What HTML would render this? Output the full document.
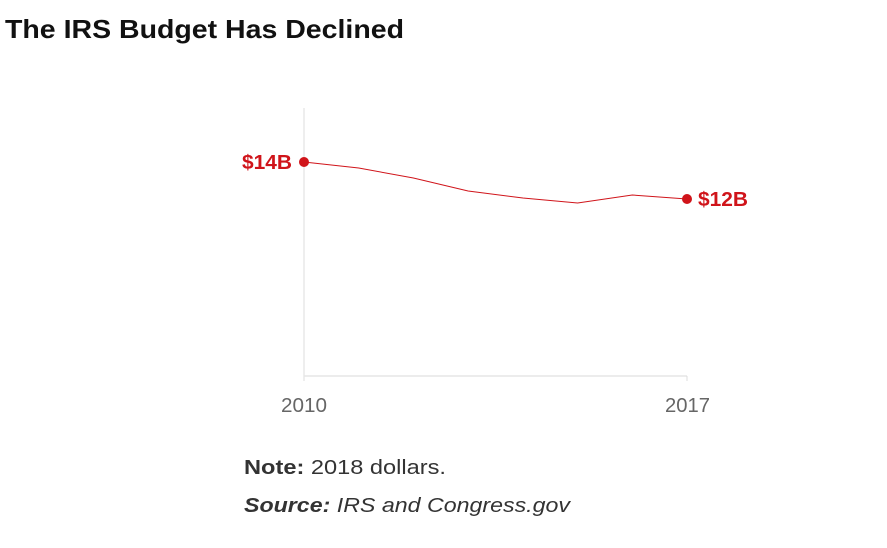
<!DOCTYPE html>
<html><head><meta charset="utf-8"><style>
html,body{margin:0;padding:0;background:#fff;}
svg{display:block;}
</style></head><body>
<svg width="887" height="548" xmlns="http://www.w3.org/2000/svg" font-family="Liberation Sans, sans-serif">
<text x="5" y="38" font-size="26" font-weight="bold" fill="#111" textLength="399" lengthAdjust="spacingAndGlyphs">The IRS Budget Has Declined</text>
<line x1="304" y1="108" x2="304" y2="381" stroke="#ddd" stroke-width="1"/>
<line x1="304" y1="376" x2="687" y2="376" stroke="#e6e6e6" stroke-width="1.5"/>
<line x1="687" y1="376" x2="687" y2="381" stroke="#ddd" stroke-width="1"/>
<polyline fill="none" stroke="#d0141a" stroke-width="1" points="304,162 358.7,168 413.4,178 468.1,191 522.9,198 577.6,203 632.3,195 687,199"/>
<circle cx="304" cy="162" r="5" fill="#d0141a"/>
<circle cx="687" cy="199" r="5" fill="#d0141a"/>
<text x="242" y="169" font-size="20" font-weight="bold" fill="#d0141a" textLength="50" lengthAdjust="spacingAndGlyphs">$14B</text>
<text x="698" y="206" font-size="20" font-weight="bold" fill="#d0141a" textLength="50" lengthAdjust="spacingAndGlyphs">$12B</text>
<text x="281" y="412" font-size="20" fill="#666" textLength="46" lengthAdjust="spacingAndGlyphs">2010</text>
<text x="665" y="412" font-size="20" fill="#666" textLength="45" lengthAdjust="spacingAndGlyphs">2017</text>
<text x="244" y="474" font-size="20" fill="#333" textLength="202" lengthAdjust="spacingAndGlyphs"><tspan font-weight="bold">Note:</tspan> 2018 dollars.</text>
<text x="244" y="512" font-size="20" fill="#333" font-style="italic" textLength="326" lengthAdjust="spacingAndGlyphs"><tspan font-weight="bold">Source:</tspan> IRS and Congress.gov</text>
</svg>
</body></html>
